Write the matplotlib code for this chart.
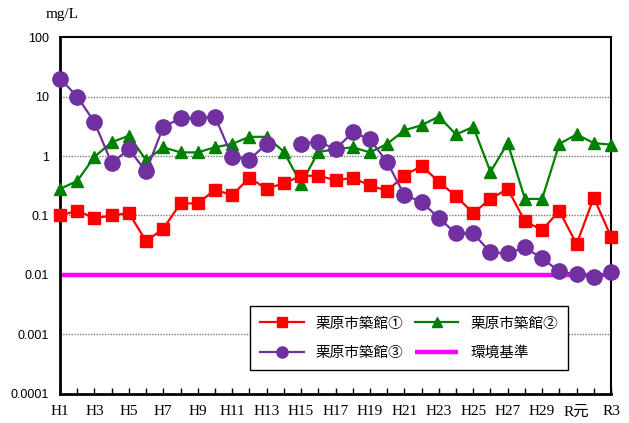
import numpy as np
import matplotlib
matplotlib.use("Agg")
import matplotlib.pyplot as plt
from matplotlib.ticker import FixedLocator, NullLocator

years = ["H1", "H2", "H3", "H4", "H5", "H6", "H7", "H8", "H9", "H10",
         "H11", "H12", "H13", "H14", "H15", "H16", "H17", "H18", "H19", "H20",
         "H21", "H22", "H23", "H24", "H25", "H26", "H27", "H28", "H29", "H30",
         "R元", "R2", "R3"]

site1 = [0.10, 0.12, 0.09, 0.10, 0.11, 0.037, 0.060, 0.16, 0.16, 0.27,
         0.22, 0.43, 0.28, 0.35, 0.46, 0.47, 0.39, 0.43, 0.32, 0.26,
         0.47, 0.68, 0.37, 0.21, 0.11, 0.19, 0.28, 0.080, 0.057, 0.12,
         0.033, 0.20, 0.044]

site2 = [0.28, 0.38, 0.97, 1.7, 2.2, 0.85, 1.4, 1.15, 1.15, 1.4,
         1.6, 2.1, 2.1, 1.18, 0.34, 1.17, 1.3, 1.4, 1.15, 1.6,
         2.7, 3.3, 4.6, 2.3, 3.1, 0.54, 1.65, 0.19, 0.19, 1.6,
         2.3, 1.65, 1.55]

site3 = [20, 10, 3.7, 0.76, 1.3, 0.55, 3.1, 4.3, 4.3, 4.6,
         0.97, 0.87, 1.6, np.nan, 1.6, 1.75, 1.3, 2.5, 1.9, 0.79,
         0.22, 0.17, 0.09, 0.05, 0.05, 0.024, 0.023, 0.029, 0.019, 0.0115,
         0.0102, 0.0092, 0.0112]

standard = 0.01

labels = ["栗原市築館①", "栗原市築館②", "栗原市築館③", "環境基準"]
y_ticks = [0.0001, 0.001, 0.01, 0.1, 1, 10, 100]
y_ticklabels = ["0.0001", "0.001", "0.01", "0.1", "1", "10", "100"]

jp = ["Noto Sans CJK JP", "DejaVu Sans"]
serif_jp = ["Liberation Serif", "Noto Sans CJK JP"]

fig = plt.figure(figsize=(6.29, 4.23), dpi=100)
ax = fig.add_axes([0.0954, 0.0686, 0.876, 0.8439])

x = np.arange(len(years))

for yv in [10, 1, 0.1, 0.001]:
    ax.axhline(yv, color="#777777", lw=1.0, ls=(0, (1, 1)), zorder=1)

l4, = ax.plot([x[0], x[-1]], [standard, standard], color="#ff00ff", lw=3.2,
              solid_capstyle="butt", zorder=2, label=labels[3])
l1, = ax.plot(x, site1, color="#ff0000", lw=1.6, marker="s", ms=8.5,
              zorder=4, label=labels[0], clip_on=False)
l2, = ax.plot(x, site2, color="#008000", lw=1.6, marker="^", ms=8.5,
              zorder=3, label=labels[1], clip_on=False)
l3, = ax.plot(x, site3, color="#7030a0", lw=1.6, marker="o", ms=11,
              zorder=5, label=labels[2], clip_on=False)

ax.set_yscale("log")
ax.set_ylim(0.0001, 100)
ax.set_xlim(0, len(years) - 1)
ax.yaxis.set_major_locator(FixedLocator(y_ticks))
ax.yaxis.set_minor_locator(NullLocator())
ax.set_yticklabels(y_ticklabels, fontsize=9, family="Liberation Sans")
ax.tick_params(axis="y", length=0, pad=8)

ax.set_xticks(x)
ax.set_xticklabels([y if i % 2 == 0 else "" for i, y in enumerate(years)],
                   fontsize=11, family=serif_jp)
ax.tick_params(axis="x", direction="in", length=4, width=1, pad=8)

for side in ["left", "bottom"]:
    ax.spines[side].set_linewidth(2)
for side in ["top", "right"]:
    ax.spines[side].set_linewidth(1.5)

# column-major fill: first column ①, ③ ; second column ②, 環境基準
leg = ax.legend(handles=[l1, l3, l2, l4], loc="lower left",
                bbox_to_anchor=(0.345, 0.067, 0.577, 0.174), mode="expand",
                borderaxespad=0,
                ncol=2, fancybox=False, framealpha=1, edgecolor="black",
                prop={"family": jp, "size": 10.5}, handlelength=3.0,
                borderpad=0.7, labelspacing=1.05, columnspacing=1.5)
leg.get_frame().set_linewidth(1.0)
leg.set_zorder(6)
for h in leg.legend_handles:
    if h.get_marker() in ("s", "^"):
        h.set_markersize(7)
    elif h.get_marker() == "o":
        h.set_markersize(8)

fig.text(0.072, 0.965, "mg/L", fontsize=11, family="Liberation Serif",
         va="center", ha="left")

fig.savefig("out.png", dpi=100)
